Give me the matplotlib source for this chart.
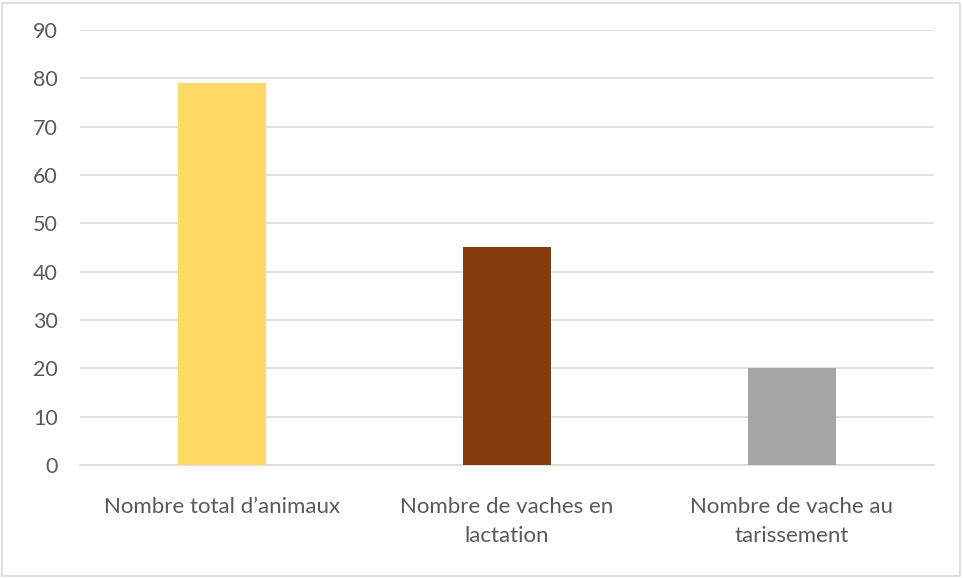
import matplotlib
matplotlib.use("Agg")
import matplotlib.pyplot as plt
from matplotlib.patches import Rectangle

# ── data ─────────────────────────────────────────────────────────────────────
categories = ["Nombre total d\u2019animaux",
              "Nombre de vaches en\nlactation",
              "Nombre de vache au\ntarissement"]
values = [79, 45, 20]
bar_colors = ["#FFD966", "#843C0C", "#A5A5A5"]
yticks = list(range(0, 100, 10))

TEXT = "#595959"
GRID = "#D9D9D9"

plt.rcParams["font.family"] = ["Lato", "DejaVu Sans"]

fig = plt.figure(figsize=(9.63, 5.78), dpi=100, facecolor="white")
ax = fig.add_axes([80 / 963, 1 - 465 / 578, (934 - 80) / 963, (465 - 30) / 578])

x = range(len(categories))
ax.bar(x, values, width=0.31, color=bar_colors, zorder=3)

ax.set_xlim(-0.5, len(categories) - 0.5)
ax.set_ylim(0, 90)
ax.set_yticks(yticks)
ax.set_xticks(list(x))
ax.set_xticklabels(categories, fontsize=16, color=TEXT, linespacing=1.55)
ax.tick_params(axis="y", length=0, labelsize=15.5, labelcolor=TEXT, pad=16)
ax.tick_params(axis="x", length=0, pad=23)
for lbl in ax.get_yticklabels():
    lbl.set_horizontalalignment("right")

ax.grid(axis="y", color=GRID, linewidth=1.1, zorder=0)
for side in ("top", "right", "left"):
    ax.spines[side].set_visible(False)
ax.spines["bottom"].set_color(GRID)
ax.spines["bottom"].set_linewidth(1.1)

# light frame around the whole chart
fig.patches.append(Rectangle((2 / 963, 2 / 578), 958 / 963, 573 / 578,
                             transform=fig.transFigure, fill=False,
                             edgecolor=GRID, linewidth=1.2))

fig.savefig("out.png", dpi=100, facecolor="white")
